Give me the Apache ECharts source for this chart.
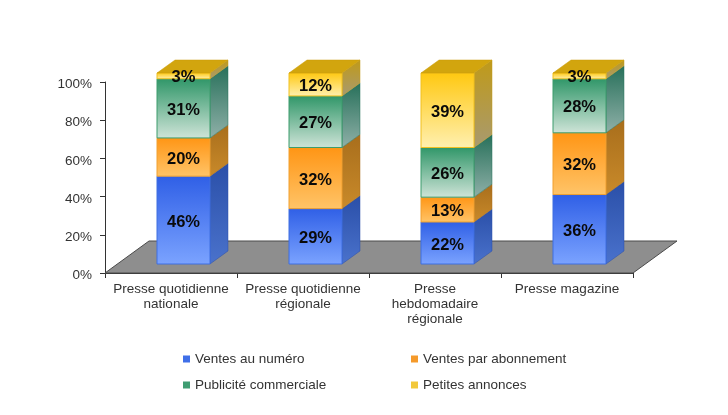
<!DOCTYPE html>
<html><head><meta charset="utf-8">
<style>html,body{margin:0;padding:0;background:#fff}#c{width:728px;height:415px;filter:blur(0.45px)}</style>
<script src="https://cdn.jsdelivr.net/npm/echarts@6/dist/echarts.min.js"></script>
</head><body><div id="c"></div>
<script>
const categories = ["Presse quotidienne\nnationale","Presse quotidienne\nrégionale","Presse\nhebdomadaire\nrégionale","Presse magazine"];
const ventesNumero = [46,29,22,36];
const ventesAbonnement = [20,32,13,32];
const publicite = [31,27,26,28];
const petitesAnnonces = [3,12,39,3];
const seriesNames = ["Ventes au numéro","Ventes par abonnement","Publicité commerciale","Petites annonces"];
const allValues = [ventesNumero,ventesAbonnement,publicite,petitesAnnonces];

const palettes = [
 {key:'#3f6fe8',edge:'#3f6fe0',f:['#2f5fe6','#7ba3ff'],s:['#2a4fa8','#4a72cc']},
 {key:'#f59a2a',edge:'#f0a030',f:['#ff9514','#ffc468'],s:['#a86e1c','#c98a2a']},
 {key:'#3f9d72',edge:'#3c9c6c',f:['#2f9668','#cfe4d8'],s:['#27705a','#8fb0a8']},
 {key:'#f2c83a',edge:'#f0c020',f:['#ffc810','#fff0b0'],s:['#c09a18','#a89a70']}
];
const BW=53, OX=12.5, OY=-9, DX=18, DY=-13, FX=44, FY=-32;
const grad=(a,b)=>({type:'linear',x:0,y:0,x2:0,y2:1,colorStops:[{offset:0,color:a},{offset:1,color:b}]});

function segData(si){
  return categories.map((c,i)=>{
    const tot=allValues.reduce((t,a)=>t+a[i],0);
    let base=0; for(let k=0;k<si;k++) base+=allValues[k][i];
    return [i,base/tot*100,(base+allValues[si][i])/tot*100,allValues[si][i]];
  });
}
function renderSeg(si){
  return function(params,api){
    const pal=palettes[si];
    const a=api.coord([api.value(0),api.value(1)]);
    const b=api.coord([api.value(0),api.value(2)]);
    const x0=a[0]-BW/2+OX, x1=x0+BW, y0=a[1]+OY, y1=b[1]+OY;
    const kids=[
      {type:'polygon',shape:{points:[[x1,y1],[x1+DX,y1+DY],[x1+DX,y0+DY],[x1,y0]]},
       style:{fill:grad(pal.s[0],pal.s[1]),stroke:pal.s[0],lineWidth:0.5}},
      {type:'rect',shape:{x:x0,y:y1,width:BW,height:y0-y1},
       style:{fill:grad(pal.f[0],pal.f[1]),stroke:pal.edge,lineWidth:1}}
    ];
    if(si===3){
      kids.push({type:'polygon',shape:{points:[[x0,y1],[x0+DX,y1+DY],[x1+DX,y1+DY],[x1,y1]]},
        style:{fill:'#d2a50e',stroke:'#c89a08',lineWidth:0.5}});
    }
    kids.push({type:'text',z2:10,style:{text:api.value(3)+'%',x:x0+BW/2,y:((si===3&&api.value(3)<5)?y1+2:(y0+y1)/2)+2,
      align:'center',verticalAlign:'middle',font:'bold 16.5px "Liberation Sans",Arial,sans-serif',fill:'#0a0a0a'}});
    return {type:'group',children:kids};
  };
}
const chart=echarts.init(document.getElementById('c'),null,{renderer:'canvas'});
const floorSeries={type:'custom',name:'sol',silent:true,z:1,data:[[0]],encode:{x:0},
  renderItem:(p,api)=>{
    const g=p.coordSys, yb=g.y+g.height, xl=g.x, xr=g.x+g.width;
    return {type:'polygon',shape:{points:[[xl,yb],[xl+FX,yb+FY],[xr+FX,yb+FY],[xr,yb]]},
      style:{fill:'#8e8e8e',stroke:'#4a4a4a',lineWidth:1}};
  }};
const barSeries=seriesNames.map((n,si)=>({
  type:'custom',name:n,z:3,silent:true,clip:false,
  itemStyle:{color:palettes[si].key},
  encode:{x:0,y:[1,2]},data:segData(si),renderItem:renderSeg(si)
}));
const legendPos=[[183,352],[411,352],[183,378],[411,378]];
chart.setOption({
  animation:false,
  grid:{left:105,right:95,top:82,bottom:142},
  xAxis:{type:'category',data:categories,
    axisLine:{lineStyle:{color:'#333',width:1}},
    axisTick:{show:true,alignWithLabel:false,length:5,lineStyle:{color:'#333'}},
    axisLabel:{interval:0,color:'#333',fontFamily:'Liberation Sans',fontSize:13.5,lineHeight:15,margin:9}},
  yAxis:{type:'value',min:0,max:100,interval:20,
    axisLine:{show:true,lineStyle:{color:'#333',width:1}},
    axisTick:{show:true,length:5,lineStyle:{color:'#333'}},
    splitLine:{show:false},
    axisLabel:{formatter:v=>'{a|'+v+'%}',margin:13,
      rich:{a:{color:'#333',fontFamily:'Liberation Sans',fontSize:13.5,padding:[5,0,0,0]}}}},
  legend:seriesNames.map((n,i)=>({data:[n],left:legendPos[i][0],top:legendPos[i][1],
    icon:'rect',itemWidth:7,itemHeight:7,itemGap:4,selectedMode:false,padding:0,
    textStyle:{color:'#333',fontFamily:'Liberation Sans',fontSize:13.5}})),
  series:[floorSeries].concat(barSeries)
});
</script></body></html>
